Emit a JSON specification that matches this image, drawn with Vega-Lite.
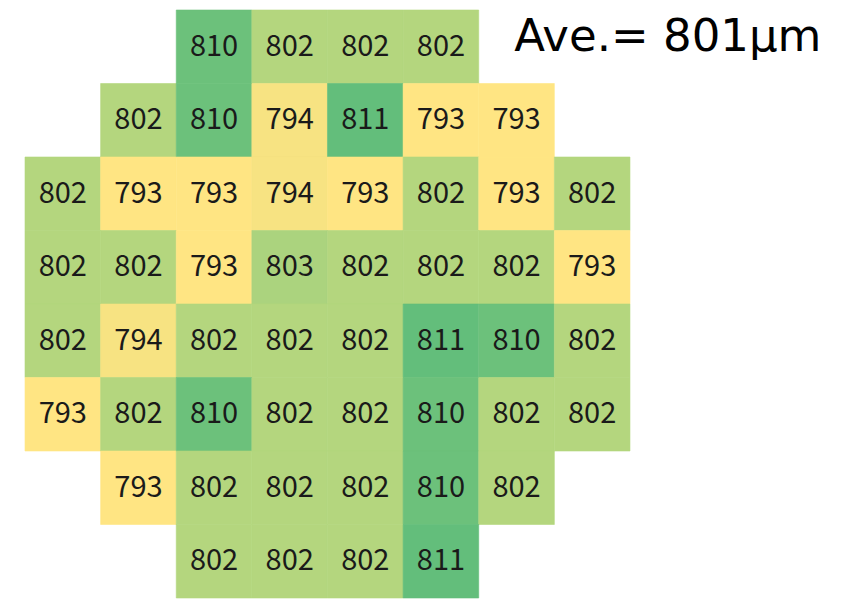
{
  "$schema": "https://vega.github.io/schema/vega-lite/v6.json",
  "width": 680.6,
  "height": 588,
  "autosize": "none",
  "padding": {"left": 25, "top": 10, "right": 146.4, "bottom": 6},
  "background": "white",
  "data": {
    "values": [
      {"r": 0, "c": 2, "v": 810}, {"r": 0, "c": 3, "v": 802}, {"r": 0, "c": 4, "v": 802}, {"r": 0, "c": 5, "v": 802},
      {"r": 1, "c": 1, "v": 802}, {"r": 1, "c": 2, "v": 810}, {"r": 1, "c": 3, "v": 794}, {"r": 1, "c": 4, "v": 811}, {"r": 1, "c": 5, "v": 793}, {"r": 1, "c": 6, "v": 793},
      {"r": 2, "c": 0, "v": 802}, {"r": 2, "c": 1, "v": 793}, {"r": 2, "c": 2, "v": 793}, {"r": 2, "c": 3, "v": 794}, {"r": 2, "c": 4, "v": 793}, {"r": 2, "c": 5, "v": 802}, {"r": 2, "c": 6, "v": 793}, {"r": 2, "c": 7, "v": 802},
      {"r": 3, "c": 0, "v": 802}, {"r": 3, "c": 1, "v": 802}, {"r": 3, "c": 2, "v": 793}, {"r": 3, "c": 3, "v": 803}, {"r": 3, "c": 4, "v": 802}, {"r": 3, "c": 5, "v": 802}, {"r": 3, "c": 6, "v": 802}, {"r": 3, "c": 7, "v": 793},
      {"r": 4, "c": 0, "v": 802}, {"r": 4, "c": 1, "v": 794}, {"r": 4, "c": 2, "v": 802}, {"r": 4, "c": 3, "v": 802}, {"r": 4, "c": 4, "v": 802}, {"r": 4, "c": 5, "v": 811}, {"r": 4, "c": 6, "v": 810}, {"r": 4, "c": 7, "v": 802},
      {"r": 5, "c": 0, "v": 793}, {"r": 5, "c": 1, "v": 802}, {"r": 5, "c": 2, "v": 810}, {"r": 5, "c": 3, "v": 802}, {"r": 5, "c": 4, "v": 802}, {"r": 5, "c": 5, "v": 810}, {"r": 5, "c": 6, "v": 802}, {"r": 5, "c": 7, "v": 802},
      {"r": 6, "c": 1, "v": 793}, {"r": 6, "c": 2, "v": 802}, {"r": 6, "c": 3, "v": 802}, {"r": 6, "c": 4, "v": 802}, {"r": 6, "c": 5, "v": 810}, {"r": 6, "c": 6, "v": 802},
      {"r": 7, "c": 2, "v": 802}, {"r": 7, "c": 3, "v": 802}, {"r": 7, "c": 4, "v": 802}, {"r": 7, "c": 5, "v": 811}
    ]
  },
  "encoding": {
    "x": {"field": "c", "type": "ordinal", "axis": null, "scale": {"paddingInner": 0, "paddingOuter": 0}},
    "y": {"field": "r", "type": "ordinal", "axis": null, "scale": {"paddingInner": 0, "paddingOuter": 0}}
  },
  "layer": [
    {
      "mark": {"type": "rect", "strokeWidth": 0.6},
      "encoding": {
        "color": {
          "field": "v",
          "type": "quantitative",
          "legend": null,
          "scale": {"domain": [793, 802, 811], "range": ["#FFE583", "#B4D67E", "#63BE7B"], "interpolate": "rgb"}
        },
        "stroke": {
          "field": "v",
          "type": "quantitative",
          "legend": null,
          "scale": {"domain": [793, 802, 811], "range": ["#FFE583", "#B4D67E", "#63BE7B"], "interpolate": "rgb"}
        }
      }
    },
    {
      "mark": {"type": "text", "font": "Noto Sans CJK JP", "fontSize": 29, "color": "#1a1a1a"},
      "encoding": {"text": {"field": "v", "type": "quantitative"}}
    },
    {
      "data": {"values": [{"label": "Ave.= 801μm"}]},
      "mark": {"type": "text", "font": "DejaVu Sans", "fontSize": 45, "color": "#000000", "align": "center", "baseline": "alphabetic"},
      "encoding": {
        "x": {"datum": 8, "type": "ordinal", "axis": null},
        "y": {"datum": 0, "type": "ordinal", "axis": null, "bandPosition": 0.558},
        "text": {"field": "label", "type": "nominal"}
      }
    }
  ],
  "config": {"view": {"stroke": null}}
}
